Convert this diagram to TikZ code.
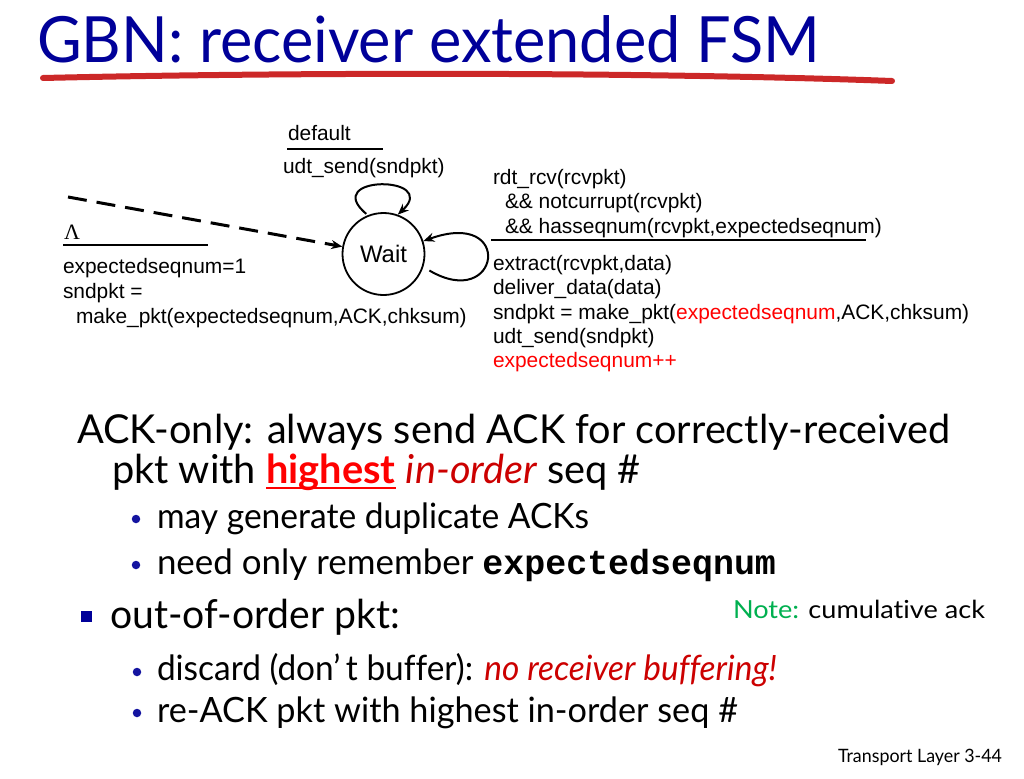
\documentclass[tikz,border=0pt]{standalone}
\usepackage{fontspec}
\setmainfont{Lato}[Ligatures=NoCommon]
\newfontfamily\arialf{Liberation Sans}
\newfontfamily\serff{Liberation Serif}
\newfontfamily\courf{Liberation Mono}
\usepackage{graphicx}
\usetikzlibrary{arrows.meta}
\definecolor{titleblue}{RGB}{0,0,153}
\definecolor{brushred}{RGB}{204,40,40}
\definecolor{bulletblue}{RGB}{20,20,160}
\definecolor{notegreen}{RGB}{0,176,80}
\definecolor{darkred}{RGB}{204,0,0}
\newsavebox\fitbox
\newsavebox\ulbox
\newcommand\fitw[2]{\sbox\fitbox{#2}\pgfmathsetmacro\fitr{#1*1.00375/\the\wd\fitbox}\scalebox{\fitr}[1]{\usebox\fitbox}}
\newcommand\redul[1]{\sbox\ulbox{#1}\rlap{\color{red}\rule[-6.5pt]{\wd\ulbox}{2.2pt}}\usebox\ulbox}
\begin{document}
\begin{tikzpicture}[x=1bp,y=-1bp,
  txt/.style={anchor=base west, inner sep=0, outer sep=0},
  fsm/.style={txt, font=\arialf\fontsize{21}{25}\selectfont},
  mainl/.style={txt, font=\fontsize{40}{48}\selectfont},
  subl/.style={txt, font=\fontsize{35}{42}\selectfont},
  dotb/.style={circle, fill=bulletblue, minimum size=8.5bp, inner sep=0},
  sqb/.style={rectangle, fill=titleblue, minimum size=11bp, inner sep=0},
  bar/.style={line width=2.2bp},
  loopar/.style={line width=2bp, -{Stealth[length=11bp,width=9bp]}},
  initar/.style={line width=3bp, dash pattern=on 19bp off 10bp, -{Stealth[length=11bp,width=9bp]}}
]
\useasboundingbox[fill=white] (0,0) rectangle (1024,779);

% title
\node[txt, text=titleblue, font=\fontsize{64}{70}\selectfont] (title) at (37,63) {\fitw{783}{GBN: receiver extended FSM}};
\draw[brushred, line width=6bp, line cap=round] (43,78) .. controls (300,72) and (650,72) .. (892,81);

% FSM
\node[draw, circle, line width=1.8bp, minimum size=82bp, inner sep=0, font=\arialf\fontsize{24}{28}\selectfont] (wait) at (383.5,254) {Wait};

\node[fsm] (dflt) at (288,140) {default};
\draw[bar] (287,149) -- (383,149);
\node[fsm] (dact) at (283,173) {udt\_send(sndpkt)};
\draw[loopar, shorten <=2bp] (wait.112) .. controls (320,175) and (440,175) .. (wait.70);

\coordinate (init) at (68,197);
\draw[initar] (init) -- (wait);
\node[txt, font=\serff\fontsize{22}{24}\selectfont] (lam) at (64,239) {Λ};
\draw[bar] (63,245) -- (208,245);
\node[fsm] (a1) at (63,273) {expectedseqnum=1};
\node[fsm] (a2) at (63,298) {sndpkt =};
\node[fsm] (a3) at (76,323) {make\_pkt(expectedseqnum,ACK,chksum)};

\node[fsm] (r1) at (493,184) {rdt\_rcv(rcvpkt)};
\node[fsm] (r2) at (505,208) {\&\& notcurrupt(rcvpkt)};
\node[fsm] (r3) at (505,233) {\&\& hasseqnum(rcvpkt,expectedseqnum)};
\draw[line width=2bp] (491,239.5) -- (866,239.5);
\node[fsm] (r4) at (493,270) {extract(rcvpkt,data)};
\node[fsm] (r5) at (493,294) {deliver\_data(data)};
\node[fsm] (r6) at (493,319) {sndpkt = make\_pkt(\textcolor{red}{expectedseqnum},ACK,chksum)};
\node[fsm] (r7) at (493,343) {udt\_send(sndpkt)};
\node[fsm, text=red] (r8) at (493,367) {expectedseqnum++};
\draw[loopar, shorten <=7bp] (wait.-18) .. controls (500,312) and (515,208) .. (wait.18);

% bullets
\node[mainl] (l1) at (77,443) {\fitw{873}{ACK-only: always send ACK for correctly-received}};
\node[mainl] (l2) at (112,483) {\fitw{529}{pkt with \textcolor{red}{\bfseries\redul{highest}} \textcolor{darkred}{\itshape in-order} seq \#}};
\node[dotb] (d1) at (136,519) {};
\node[subl] (l3) at (157,528) {\fitw{432}{may generate duplicate ACKs}};
\node[dotb] (d2) at (136,565) {};
\node[subl] (l4) at (157,574) {\fitw{619}{need only remember {\courf\bfseries expectedseqnum}}};
\node[sqb] (s1) at (86,616) {};
\node[mainl] (l5) at (110,628) {\fitw{290}{out-of-order pkt:}};
\node[txt, font=\fontsize{25}{30}\selectfont] (note) at (733,618) {\fitw{252}{\textcolor{notegreen}{Note:} cumulative ack}};
\node[dotb] (d3) at (137,672) {};
\node[subl] (l6) at (157,680) {\fitw{620}{discard (don’\,t buffer): \textcolor{darkred}{\itshape no receiver buffering!}}};
\node[dotb] (d4) at (137,713) {};
\node[subl] (l7) at (157,722) {\fitw{581}{re-ACK pkt with highest in-order seq \#}};
\node[txt, font=\fontsize{18.5}{22}\selectfont] (foot) at (838,762) {\fitw{164}{Transport Layer 3-44}};
\end{tikzpicture}
\end{document}
